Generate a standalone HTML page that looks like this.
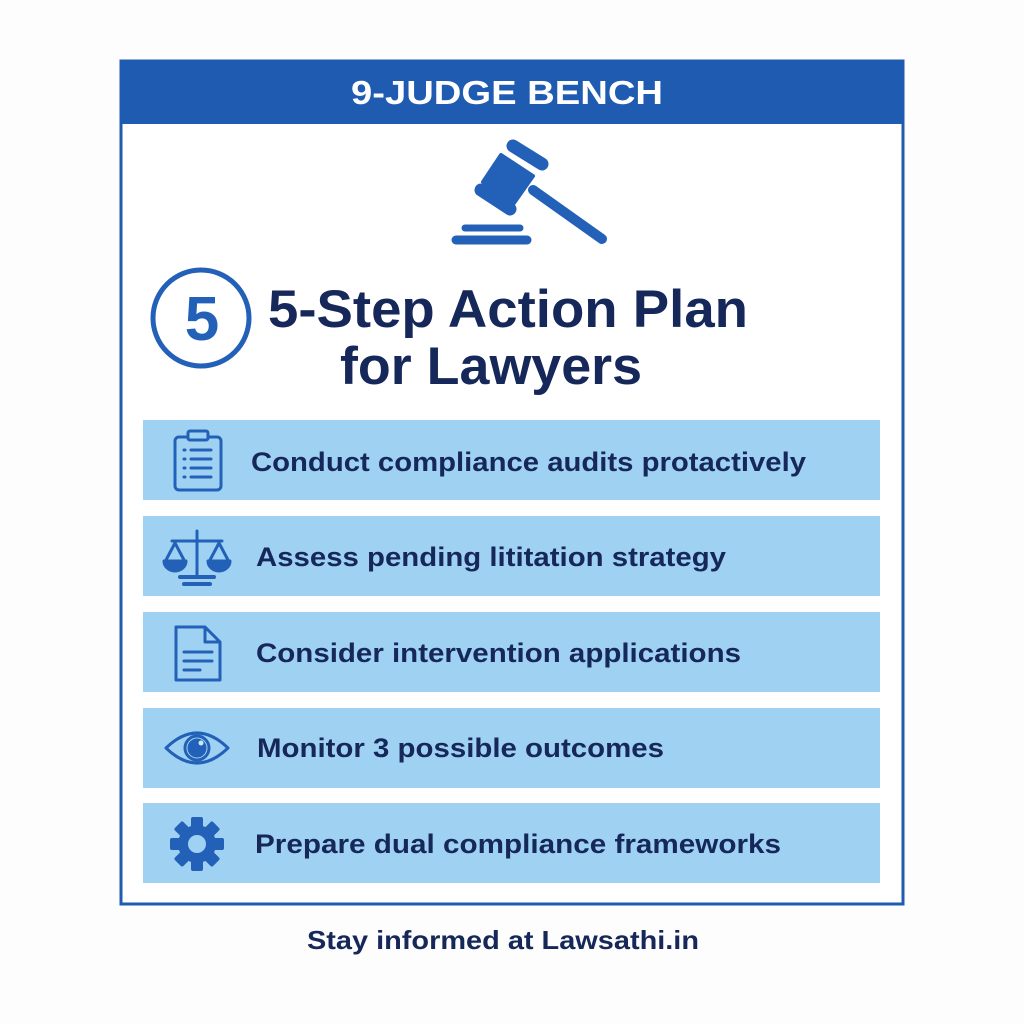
<!DOCTYPE html>
<html><head><meta charset="utf-8"><style>
html,body{margin:0;padding:0;background:#fdfdfd;}
svg{display:block}
text{font-family:"Liberation Sans",sans-serif;font-weight:bold;}
</style></head><body>
<svg width="1024" height="1024" viewBox="0 0 1024 1024" xmlns="http://www.w3.org/2000/svg">
<rect width="1024" height="1024" fill="#fdfdfd"/>
<rect x="121" y="61" width="782" height="843" fill="#ffffff" stroke="#1f5bb0" stroke-width="3"/>
<rect x="120" y="60" width="784" height="64" fill="#1f5bb0"/>
<text x="507" y="104" font-size="33" fill="#fff" text-anchor="middle" textLength="312" lengthAdjust="spacingAndGlyphs">9-JUDGE BENCH</text>

<!-- gavel -->
<g fill="#2361b8" stroke="#2361b8" stroke-linecap="round">
<line x1="513" y1="146" x2="542" y2="164" stroke-width="13"/>
<line x1="481" y1="190" x2="510" y2="209" stroke-width="13"/>
<polygon points="501,155 533,176 514,203 483,182" stroke-width="4" stroke-linejoin="round"/>
<line x1="533" y1="190" x2="602" y2="239" stroke-width="10"/>
<line x1="465" y1="228" x2="520" y2="228" stroke-width="7"/>
<line x1="456" y1="240" x2="527" y2="240" stroke-width="9"/>
</g>

<!-- circle 5 -->
<circle cx="201" cy="318" r="48" fill="none" stroke="#2361b8" stroke-width="5"/>
<text x="202" y="340" font-size="62" fill="#2361b8" text-anchor="middle">5</text>
<text x="268" y="327" font-size="53" fill="#16275a" textLength="480" lengthAdjust="spacingAndGlyphs">5-Step Action Plan</text>
<text x="340" y="384" font-size="53" fill="#16275a" textLength="302" lengthAdjust="spacingAndGlyphs">for Lawyers</text>

<!-- rows -->
<g fill="#9fd2f2">
<rect x="143" y="420" width="737" height="80"/>
<rect x="143" y="516" width="737" height="80"/>
<rect x="143" y="612" width="737" height="80"/>
<rect x="143" y="708" width="737" height="80"/>
<rect x="143" y="803" width="737" height="80"/>
</g>
<g font-size="27" fill="#16275a">
<text x="251" y="471" textLength="555" lengthAdjust="spacingAndGlyphs">Conduct compliance audits protactively</text>
<text x="256" y="566" textLength="470" lengthAdjust="spacingAndGlyphs">Assess pending lititation strategy</text>
<text x="256" y="662" textLength="485" lengthAdjust="spacingAndGlyphs">Consider intervention applications</text>
<text x="257" y="757" textLength="407" lengthAdjust="spacingAndGlyphs">Monitor 3 possible outcomes</text>
<text x="255" y="853" textLength="526" lengthAdjust="spacingAndGlyphs">Prepare dual compliance frameworks</text>
</g>

<!-- icons -->
<g fill="none" stroke="#2361b8" stroke-width="3" stroke-linecap="round" stroke-linejoin="round">
<rect x="175" y="437" width="46" height="53" rx="4"/>
<rect x="188" y="431" width="20" height="9" rx="2" fill="#9fd2f2"/>
<line x1="191" y1="450" x2="211" y2="450"/><line x1="191" y1="459" x2="211" y2="459"/>
<line x1="191" y1="468" x2="211" y2="468"/><line x1="191" y1="477" x2="211" y2="477"/>
<line x1="184" y1="450" x2="185" y2="450"/><line x1="184" y1="459" x2="185" y2="459"/>
<line x1="184" y1="468" x2="185" y2="468"/><line x1="184" y1="477" x2="185" y2="477"/>
<line x1="197" y1="531" x2="197" y2="577"/>
<line x1="172" y1="541" x2="222" y2="541"/>
<line x1="180" y1="577" x2="214" y2="577" stroke-width="4"/>
<line x1="184" y1="584" x2="210" y2="584" stroke-width="4"/>
<path d="M175 543 L166 560 M175 543 L184 560 M219 543 L210 560 M219 543 L228 560"/>
<path d="M164 561 H186 A11 10 0 0 1 164 561Z M208 561 H230 A11 10 0 0 1 208 561Z" fill="#2361b8"/>
<path d="M176 627 H205 L220 642 V680 H176 Z M205 627 V642 H220"/>
<line x1="184" y1="652" x2="212" y2="652"/><line x1="184" y1="661" x2="212" y2="661"/><line x1="184" y1="670" x2="200" y2="670"/>
<path d="M166 748 Q197 718 228 748 Q197 778 166 748 Z"/>
<circle cx="197" cy="748" r="12"/>
<circle cx="197" cy="748" r="8" fill="#2361b8"/>
</g>
<circle cx="201" cy="743" r="2.5" fill="#cfe6f7"/>
<g fill="#2361b8" transform="translate(197,844)">
<circle r="19"/>
<rect x="-6" y="-27" width="12" height="54" rx="2"/>
<rect x="-6" y="-27" width="12" height="54" rx="2" transform="rotate(45)"/>
<rect x="-6" y="-27" width="12" height="54" rx="2" transform="rotate(90)"/>
<rect x="-6" y="-27" width="12" height="54" rx="2" transform="rotate(135)"/>
<circle r="9" fill="#9fd2f2"/>
</g>

<text x="503" y="949" font-size="26" fill="#16275a" text-anchor="middle" textLength="392" lengthAdjust="spacingAndGlyphs">Stay informed at Lawsathi.in</text>
</svg>
</body></html>
